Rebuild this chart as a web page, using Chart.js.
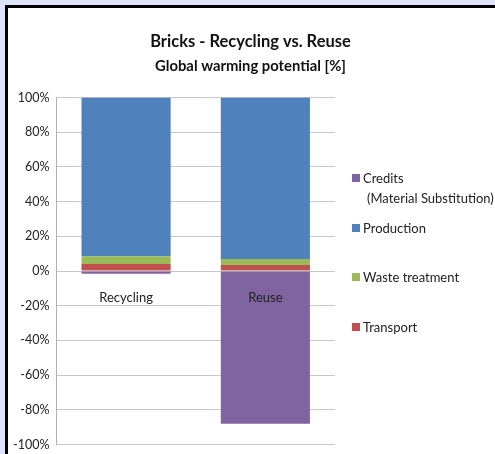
<!DOCTYPE html>
<html>
<head>
<meta charset="utf-8">
<script src="https://cdn.jsdelivr.net/npm/chart.js@4"></script>
<style>
  html, body { margin: 0; padding: 0; }
  body { width: 495px; height: 454px; background: #dfe3fa; position: relative; overflow: hidden; font-family: Lato, "Open Sans", sans-serif; }
  #panel { position: absolute; left: 5px; top: 5px; right: 0; bottom: 0; background: #fff; border-left: 3px solid #000; border-top: 3px solid #000; }
  #wrap { position: absolute; left: 0; top: 0; width: 495px; height: 459px; }
  #legend { position: absolute; left: 352px; top: 168px; font-size: 13px; color: #222; }
  .item { height: 49.5px; position: relative; padding-left: 11px; line-height: 20px; }
  .box { position: absolute; left: 0; top: 6px; width: 8px; height: 8px; }
</style>
</head>
<body>
<div id="panel"></div>
<div id="wrap"><canvas id="myChart" width="495" height="459"></canvas></div>
<div id="legend"></div>
<script>
// categories and series (percent of total GWP)
const categories = ['Recycling', 'Reuse'];
const transport = [4, 3.5];
const wasteTreatment = [4.5, 3.5];
const production = [91.5, 93];
const credits = [-1.5, -88];
const yTicks = [-100, -80, -60, -40, -20, 0, 20, 40, 60, 80, 100];

const seriesNames = ['Transport', 'Waste treatment', 'Production', 'Credits\n(Material Substitution)'];
const seriesData = [transport, wasteTreatment, production, credits];
const seriesColors = ['#c0504d', '#9bbb59', '#4f81bd', '#8064a2'];

const datasets = seriesNames.map(function(name, i) {
    return {
        label: name,
        data: seriesData[i],
        backgroundColor: seriesColors[i],
        borderWidth: 0,
        categoryPercentage: 1,
        barPercentage: 0.64,
        yAxisID: 'y'
    };
});

// legend, top entry is the last series like in Excel
const legend = document.getElementById('legend');
for (let i = seriesNames.length - 1; i >= 0; i--) {
    const item = document.createElement('div');
    item.className = 'item';
    const box = document.createElement('span');
    box.className = 'box';
    box.style.background = seriesColors[i];
    item.appendChild(box);
    seriesNames[i].split('\n').forEach(function(line, j) {
        const t = document.createElement('div');
        t.textContent = line;
        if (j > 0) t.style.paddingLeft = '4px';
        item.appendChild(t);
    });
    legend.appendChild(item);
}

const ctx = document.getElementById('myChart').getContext('2d');
new Chart(ctx, {
    type: 'bar',
    data: {
        labels: categories,
        datasets: datasets
    },
    options: {
        responsive: false,
        animation: false,
        layout: {
            padding: { left: 6, right: 0, top: 32, bottom: 0 }
        },
        plugins: {
            legend: { display: false },
            tooltip: { enabled: false },
            title: {
                display: true,
                text: 'Bricks - Recycling vs. Reuse',
                color: '#111',
                font: { family: 'Lato', size: 16.5, weight: 'bold' },
                padding: { top: 0, bottom: 4 }
            },
            subtitle: {
                display: true,
                text: 'Global warming potential [%]',
                color: '#111',
                font: { family: 'Lato', size: 14.8, weight: 'bold' },
                padding: { top: 2, bottom: 22 }
            }
        },
        scales: {
            x: {
                stacked: true,
                position: { y: 0 },
                grid: { display: false },
                border: { display: false },
                ticks: {
                    z: 1,
                    padding: 11,
                    color: '#222',
                    font: { family: 'Lato', size: 13 }
                }
            },
            y: {
                stacked: true,
                min: -100,
                max: 100,
                afterBuildTicks: function(scale) {
                    scale.ticks = yTicks.map(function(v) { return { value: v }; });
                },
                grid: { color: '#c8c8c8', drawTicks: false },
                border: { color: '#b0b0b0' },
                ticks: {
                    padding: 7,
                    color: '#222',
                    font: { family: 'Lato', size: 12.5 },
                    callback: function(value) { return value + '%'; }
                }
            },
            right: {
                position: 'right',
                display: true,
                grid: { display: false },
                border: { display: false },
                ticks: { display: false },
                afterFit: function(scale) { scale.width = 160; }
            }
        }
    }
});
</script>
</body>
</html>
